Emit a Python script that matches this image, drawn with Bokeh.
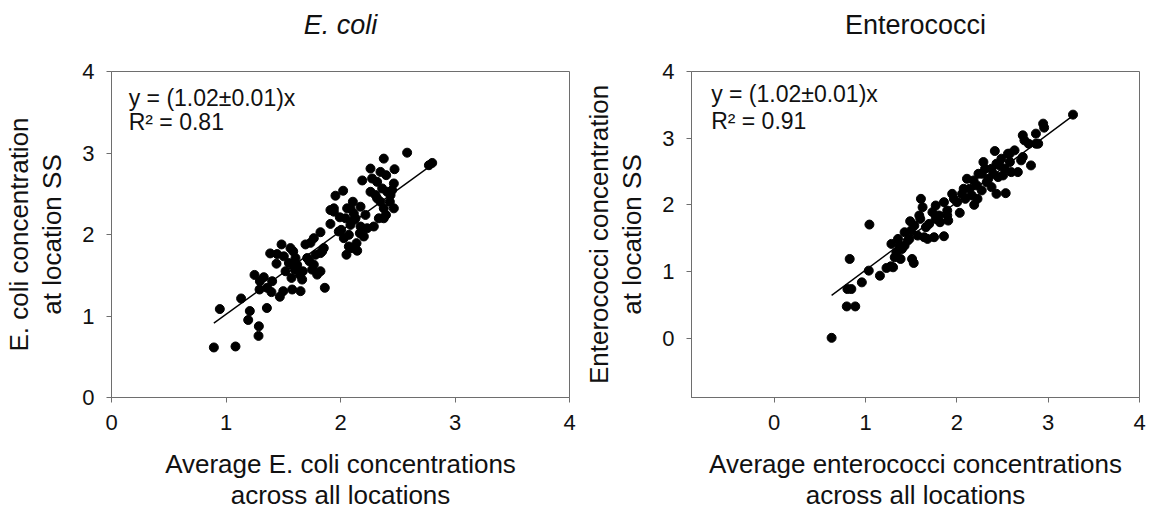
from bokeh.plotting import figure
from bokeh.layouts import row
from bokeh.models import Label, FixedTicker, Range1d, LinearAxis
from bokeh.embed import file_html
from bokeh.resources import INLINE

# ---------------- data ----------------
ecoli_x = [0.894, 1.083, 0.946, 1.132, 1.208, 1.194, 1.287, 1.284, 1.357, 1.249,
           1.296, 1.330, 1.293, 1.397, 1.403, 1.386, 1.485, 1.441, 1.470, 1.500,
           1.505, 1.549, 1.572, 1.587, 1.601, 1.622, 1.578, 1.651, 1.665, 1.645,
           1.694, 1.729, 1.767, 1.782, 1.796, 1.825, 1.825, 1.840, 1.863, 1.854,
           1.912, 1.942, 1.956, 2.023, 1.994, 2.006, 2.029, 2.052, 2.073, 2.087,
           2.058, 2.108, 2.131, 2.146, 2.169, 2.204, 2.175, 2.190, 2.262, 2.276,
           2.320, 2.306, 2.262, 2.349, 2.378, 2.408, 2.399, 2.466, 2.472, 2.291,
           2.335, 2.378, 2.397, 2.466, 2.582, 2.772, 2.801, 2.437, 2.364, 2.218,
           1.942, 1.912, 2.087, 2.116, 2.044, 2.116, 1.985, 2.073, 1.709, 1.752,
           1.825, 1.520, 1.671, 1.767, 1.607, 1.563, 1.738, 1.359, 2.102, 2.140,
           2.175, 2.233, 2.320, 2.431, 2.349, 2.451, 2.378, 1.447]
ecoli_y = [0.614, 0.626, 1.085, 1.215, 1.061, 0.951, 0.874, 0.756, 1.098, 1.504,
           1.427, 1.476, 1.325, 1.293, 1.427, 1.768, 1.878, 1.642, 1.236, 1.305,
           1.732, 1.650, 1.467, 1.793, 1.569, 1.626, 1.325, 1.305, 1.447, 1.508,
           1.878, 1.670, 1.955, 1.752, 1.508, 1.549, 2.028, 1.793, 1.346, 1.833,
           2.130, 2.321, 2.476, 2.537, 2.211, 2.057, 1.955, 1.752, 1.853, 2.118,
           2.321, 2.402, 2.199, 1.801, 2.016, 1.976, 2.341, 2.663, 2.809, 2.687,
           2.646, 2.484, 2.524, 2.402, 2.931, 2.524, 2.728, 2.626, 2.801, 2.098,
           2.199, 2.321, 2.240, 2.321, 3.004, 2.850, 2.878, 2.484, 2.565, 2.240,
           2.280, 2.300, 2.321, 2.179, 2.199, 2.260, 2.037, 1.996, 1.711, 1.569,
           1.772, 1.549, 1.549, 1.630, 1.711, 1.833, 1.898, 1.346, 1.833, 1.894,
           2.098, 2.077, 2.443, 2.402, 2.768, 2.545, 2.199, 1.760]

entero_x = [0.629, 0.795, 0.888, 0.802, 0.845, 0.827, 0.960, 1.043, 1.036, 1.158,
            1.230, 1.277, 1.284, 1.338, 1.384, 1.399, 1.356, 1.428, 1.489, 1.499,
            1.463, 1.510, 1.528, 1.571, 1.589, 1.607, 1.661, 1.679, 1.751, 1.859,
            1.769, 1.805, 1.816, 1.859, 1.895, 1.906, 1.949, 2.003, 2.032, 2.057,
            2.111, 2.140, 2.165, 2.190, 2.219, 2.237, 2.273, 2.309, 2.345, 2.380,
            2.416, 2.434, 2.452, 2.434, 2.535, 2.488, 2.524, 2.560, 2.596, 2.632,
            2.668, 2.704, 2.722, 2.740, 2.787, 2.812, 2.866, 2.891, 2.945, 2.956,
            3.272, 1.625, 1.697, 1.481, 1.428, 1.320, 1.600, 1.733, 1.967, 2.075,
            2.183, 2.273, 2.327, 2.398, 2.470, 2.581, 2.380, 2.291, 2.506, 2.866,
            2.578, 1.769, 1.895, 1.374, 1.643, 1.302, 1.535, 2.093, 2.226, 2.722]
entero_y = [0.005, 0.476, 0.476, 0.737, 0.737, 1.188, 0.837, 1.704, 1.013, 0.937,
            1.053, 1.078, 1.414, 1.288, 1.188, 1.338, 1.489, 1.589, 1.754, 1.614,
            1.464, 1.188, 1.128, 1.539, 1.840, 2.090, 1.664, 1.489, 1.514, 1.529,
            1.990, 1.840, 1.739, 2.040, 1.915, 1.764, 2.165, 2.040, 1.880, 2.165,
            2.391, 2.241, 2.140, 2.000, 2.291, 2.466, 2.216, 2.541, 2.391, 2.541,
            2.807, 2.617, 2.416, 2.165, 2.175, 2.692, 2.541, 2.767, 2.491, 2.817,
            2.491, 2.667, 3.043, 2.967, 2.917, 2.591, 3.068, 2.917, 3.218, 3.158,
            3.353, 1.965, 1.714, 1.489, 1.388, 1.213, 1.789, 1.890, 2.090, 2.241,
            2.366, 2.466, 2.341, 2.466, 2.591, 2.642, 2.266, 2.642, 2.441, 2.917,
            2.767, 1.789, 1.840, 1.388, 1.514, 1.063, 1.689, 2.090, 2.090, 2.717]

slope = 1.02
ticks = [0, 1, 2, 3, 4]
titles = ["E. coli", "Enterococci"]
eq_text = "y = (1.02\u00b10.01)x"
r2_texts = ["R\u00b2 = 0.81", "R\u00b2 = 0.91"]
xlabels = ["Average E. coli concentrations\nacross all locations",
           "Average enterococci concentrations\nacross all locations"]
ylabels = ["E. coli concentration\nat location SS",
           "Enterococci concentration\nat location SS"]

FONT = "Liberation Sans"
AXIS_COLOR = "#6e6e6e"
TEXT_COLOR = "#111111"


def make_plot(xs, ys, xr, yr, title, r2, xlabel, ylabel, italic,
              w, bl, br, bt, bb, ann_x, ann_y1, ann_y2, t_standoff):
    p = figure(output_backend="svg", toolbar_location=None,
               width=w, height=513,
               min_border_left=bl, min_border_right=br,
               min_border_top=bt, min_border_bottom=bb,
               x_range=Range1d(*xr), y_range=Range1d(*yr))
    p.title = None
    p.grid.visible = False
    p.outline_line_color = AXIS_COLOR
    p.outline_line_width = 1
    p.background_fill_color = "white"
    p.border_fill_color = "white"
    for ax in (p.xaxis[0], p.yaxis[0]):
        ax.ticker = FixedTicker(ticks=ticks)
        ax.minor_tick_line_color = None
        ax.major_tick_in = 0
        ax.major_tick_out = 5
        ax.axis_line_color = AXIS_COLOR
        ax.major_tick_line_color = AXIS_COLOR
        ax.major_label_text_font = FONT
        ax.major_label_text_font_size = "22px"
        ax.major_label_text_color = TEXT_COLOR
        ax.axis_label_text_font = FONT
        ax.axis_label_text_font_size = "26px"
        ax.axis_label_text_font_style = "normal"
        ax.axis_label_text_color = TEXT_COLOR
    p.xaxis.axis_label_text_line_height = 1.05
    p.yaxis.axis_label_text_line_height = 1.12
    p.xaxis.major_label_standoff = 12
    p.yaxis.major_label_standoff = 12
    p.xaxis.axis_label = xlabel
    p.yaxis.axis_label = ylabel
    p.xaxis.axis_label_standoff = 16
    p.yaxis.axis_label_standoff = 12

    # chart title drawn as the label of a bare axis above the frame
    tax = LinearAxis(ticker=FixedTicker(ticks=[]), axis_label=title,
                     axis_line_color=None, major_tick_line_color=None,
                     minor_tick_line_color=None,
                     major_label_text_font_size="0px",
                     major_label_standoff=0, major_tick_out=0, major_tick_in=0,
                     axis_label_standoff=t_standoff,
                     axis_label_text_font=FONT,
                     axis_label_text_font_size="27px",
                     axis_label_text_color=TEXT_COLOR,
                     axis_label_text_font_style="italic" if italic else "normal")
    p.add_layout(tax, "above")

    # regression line y = slope * x over data extent
    lx = [min(xs), max(xs)]
    p.line(lx, [slope * v for v in lx], line_color="black", line_width=1.4)
    p.scatter(xs, ys, size=9, marker="circle", fill_color="black",
              line_color="black")

    p.add_layout(Label(x=ann_x, y=ann_y1, text=eq_text, text_font=FONT,
                       text_font_size="23px", text_color=TEXT_COLOR,
                       text_baseline="middle"))
    p.add_layout(Label(x=ann_x, y=ann_y2, text=r2, text_font=FONT,
                       text_font_size="23px", text_color=TEXT_COLOR,
                       text_baseline="middle"))
    return p


p1 = make_plot(ecoli_x, ecoli_y, (0, 4), (0, 4), titles[0], r2_texts[0],
               xlabels[0], ylabels[0], True,
               580, 111, 11, 71, 116,
               0.15, 3.68, 3.38, 32)
p2 = make_plot(entero_x, entero_y, (-0.905, 4.0), (-0.89, 4.0), titles[1],
               r2_texts[1], xlabels[1], ylabels[1], False,
               569, 107, 10, 71, 116,
               -0.69, 3.67, 3.26, 32)

layout = row(p1, p2)
open("out.html", "w").write(file_html(layout, INLINE))
